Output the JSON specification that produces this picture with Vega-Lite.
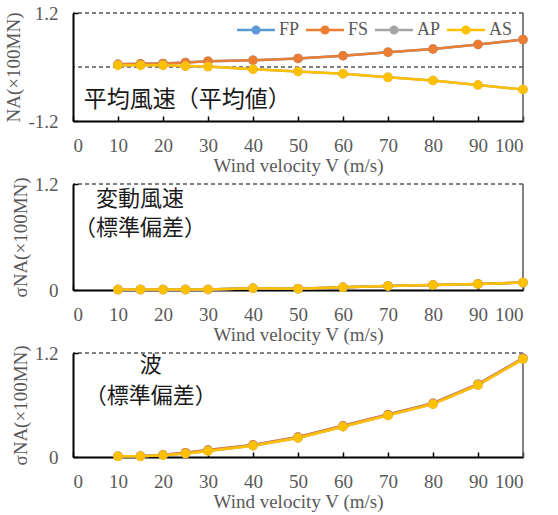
{
  "$schema": "https://vega.github.io/schema/vega-lite/v6.json",
  "background": "white",
  "padding": {"left": 4, "top": 4, "right": 5, "bottom": 3},
  "config": {
    "font": "Liberation Serif",
    "view": {"stroke": null},
    "concat": {"spacing": 0},
    "axis": {
      "labelFont": "Liberation Serif", "labelFontSize": 19, "labelColor": "#595959",
      "titleFont": "Liberation Serif", "titleFontSize": 19, "titleColor": "#595959", "titleFontWeight": "normal",
      "domainColor": "black", "domainWidth": 2, "tickColor": "black", "tickWidth": 1.5, "tickSize": -5,
      "grid": false
    },
    "legend": {
      "orient": "none", "legendX": 164, "legendY": -2, "direction": "horizontal", "title": null,
      "symbolType": "M-1,-0.06L1,-0.06L1,0.06L-1,0.06Z M0.24,0A0.24,0.24 0 1,1 -0.24,0A0.24,0.24 0 1,1 0.24,0Z",
      "symbolSize": 1444, "symbolStrokeWidth": 0,
      "labelFont": "Liberation Serif", "labelFontSize": 18, "labelColor": "#595959",
      "labelOffset": 4, "columnPadding": 6, "padding": 0
    }
  },
  "datasets": {
    "mean": [
      {"V": 10, "series": "FP", "value": 0.06}, {"V": 15, "series": "FP", "value": 0.07}, {"V": 20, "series": "FP", "value": 0.08}, {"V": 25, "series": "FP", "value": 0.10}, {"V": 30, "series": "FP", "value": 0.13}, {"V": 40, "series": "FP", "value": 0.15}, {"V": 50, "series": "FP", "value": 0.19}, {"V": 60, "series": "FP", "value": 0.25}, {"V": 70, "series": "FP", "value": 0.33}, {"V": 80, "series": "FP", "value": 0.40}, {"V": 90, "series": "FP", "value": 0.50}, {"V": 100, "series": "FP", "value": 0.61},
      {"V": 10, "series": "FS", "value": 0.06}, {"V": 15, "series": "FS", "value": 0.07}, {"V": 20, "series": "FS", "value": 0.08}, {"V": 25, "series": "FS", "value": 0.10}, {"V": 30, "series": "FS", "value": 0.13}, {"V": 40, "series": "FS", "value": 0.15}, {"V": 50, "series": "FS", "value": 0.19}, {"V": 60, "series": "FS", "value": 0.25}, {"V": 70, "series": "FS", "value": 0.33}, {"V": 80, "series": "FS", "value": 0.40}, {"V": 90, "series": "FS", "value": 0.50}, {"V": 100, "series": "FS", "value": 0.61},
      {"V": 10, "series": "AP", "value": 0.04}, {"V": 15, "series": "AP", "value": 0.04}, {"V": 20, "series": "AP", "value": 0.04}, {"V": 25, "series": "AP", "value": 0.02}, {"V": 30, "series": "AP", "value": 0.01}, {"V": 40, "series": "AP", "value": -0.05}, {"V": 50, "series": "AP", "value": -0.10}, {"V": 60, "series": "AP", "value": -0.15}, {"V": 70, "series": "AP", "value": -0.23}, {"V": 80, "series": "AP", "value": -0.30}, {"V": 90, "series": "AP", "value": -0.40}, {"V": 100, "series": "AP", "value": -0.50},
      {"V": 10, "series": "AS", "value": 0.04}, {"V": 15, "series": "AS", "value": 0.04}, {"V": 20, "series": "AS", "value": 0.04}, {"V": 25, "series": "AS", "value": 0.02}, {"V": 30, "series": "AS", "value": 0.01}, {"V": 40, "series": "AS", "value": -0.05}, {"V": 50, "series": "AS", "value": -0.10}, {"V": 60, "series": "AS", "value": -0.15}, {"V": 70, "series": "AS", "value": -0.23}, {"V": 80, "series": "AS", "value": -0.30}, {"V": 90, "series": "AS", "value": -0.40}, {"V": 100, "series": "AS", "value": -0.50}
    ],
    "fluct": [
      {"V": 10, "series": "FP", "value": 0.005}, {"V": 15, "series": "FP", "value": 0.005}, {"V": 20, "series": "FP", "value": 0.005}, {"V": 25, "series": "FP", "value": 0.005}, {"V": 30, "series": "FP", "value": 0.006}, {"V": 40, "series": "FP", "value": 0.02}, {"V": 50, "series": "FP", "value": 0.015}, {"V": 60, "series": "FP", "value": 0.03}, {"V": 70, "series": "FP", "value": 0.046}, {"V": 80, "series": "FP", "value": 0.058}, {"V": 90, "series": "FP", "value": 0.069}, {"V": 100, "series": "FP", "value": 0.084},
      {"V": 10, "series": "FS", "value": 0.005}, {"V": 15, "series": "FS", "value": 0.005}, {"V": 20, "series": "FS", "value": 0.005}, {"V": 25, "series": "FS", "value": 0.005}, {"V": 30, "series": "FS", "value": 0.006}, {"V": 40, "series": "FS", "value": 0.02}, {"V": 50, "series": "FS", "value": 0.015}, {"V": 60, "series": "FS", "value": 0.03}, {"V": 70, "series": "FS", "value": 0.046}, {"V": 80, "series": "FS", "value": 0.058}, {"V": 90, "series": "FS", "value": 0.069}, {"V": 100, "series": "FS", "value": 0.084},
      {"V": 10, "series": "AP", "value": 0.005}, {"V": 15, "series": "AP", "value": 0.005}, {"V": 20, "series": "AP", "value": 0.005}, {"V": 25, "series": "AP", "value": 0.005}, {"V": 30, "series": "AP", "value": 0.006}, {"V": 40, "series": "AP", "value": 0.02}, {"V": 50, "series": "AP", "value": 0.015}, {"V": 60, "series": "AP", "value": 0.03}, {"V": 70, "series": "AP", "value": 0.046}, {"V": 80, "series": "AP", "value": 0.058}, {"V": 90, "series": "AP", "value": 0.069}, {"V": 100, "series": "AP", "value": 0.084},
      {"V": 10, "series": "AS", "value": 0.005}, {"V": 15, "series": "AS", "value": 0.005}, {"V": 20, "series": "AS", "value": 0.005}, {"V": 25, "series": "AS", "value": 0.005}, {"V": 30, "series": "AS", "value": 0.006}, {"V": 40, "series": "AS", "value": 0.02}, {"V": 50, "series": "AS", "value": 0.015}, {"V": 60, "series": "AS", "value": 0.03}, {"V": 70, "series": "AS", "value": 0.046}, {"V": 80, "series": "AS", "value": 0.058}, {"V": 90, "series": "AS", "value": 0.069}, {"V": 100, "series": "AS", "value": 0.084}
    ],
    "wave": [
      {"V": 10, "series": "FP", "value": 0.01}, {"V": 15, "series": "FP", "value": 0.01}, {"V": 20, "series": "FP", "value": 0.025}, {"V": 25, "series": "FP", "value": 0.05}, {"V": 30, "series": "FP", "value": 0.08}, {"V": 40, "series": "FP", "value": 0.14}, {"V": 50, "series": "FP", "value": 0.23}, {"V": 60, "series": "FP", "value": 0.36}, {"V": 70, "series": "FP", "value": 0.49}, {"V": 80, "series": "FP", "value": 0.62}, {"V": 90, "series": "FP", "value": 0.84}, {"V": 100, "series": "FP", "value": 1.14},
      {"V": 10, "series": "FS", "value": 0.01}, {"V": 15, "series": "FS", "value": 0.01}, {"V": 20, "series": "FS", "value": 0.025}, {"V": 25, "series": "FS", "value": 0.05}, {"V": 30, "series": "FS", "value": 0.08}, {"V": 40, "series": "FS", "value": 0.14}, {"V": 50, "series": "FS", "value": 0.23}, {"V": 60, "series": "FS", "value": 0.36}, {"V": 70, "series": "FS", "value": 0.49}, {"V": 80, "series": "FS", "value": 0.62}, {"V": 90, "series": "FS", "value": 0.84}, {"V": 100, "series": "FS", "value": 1.14},
      {"V": 10, "series": "AP", "value": 0.008}, {"V": 15, "series": "AP", "value": 0.008}, {"V": 20, "series": "AP", "value": 0.02}, {"V": 25, "series": "AP", "value": 0.04}, {"V": 30, "series": "AP", "value": 0.07}, {"V": 40, "series": "AP", "value": 0.13}, {"V": 50, "series": "AP", "value": 0.22}, {"V": 60, "series": "AP", "value": 0.35}, {"V": 70, "series": "AP", "value": 0.48}, {"V": 80, "series": "AP", "value": 0.61}, {"V": 90, "series": "AP", "value": 0.83}, {"V": 100, "series": "AP", "value": 1.13},
      {"V": 10, "series": "AS", "value": 0.008}, {"V": 15, "series": "AS", "value": 0.008}, {"V": 20, "series": "AS", "value": 0.02}, {"V": 25, "series": "AS", "value": 0.04}, {"V": 30, "series": "AS", "value": 0.07}, {"V": 40, "series": "AS", "value": 0.13}, {"V": 50, "series": "AS", "value": 0.22}, {"V": 60, "series": "AS", "value": 0.35}, {"V": 70, "series": "AS", "value": 0.48}, {"V": 80, "series": "AS", "value": 0.61}, {"V": 90, "series": "AS", "value": 0.83}, {"V": 100, "series": "AS", "value": 1.13}
    ]
  },
  "vconcat": [
    {
      "width": 450, "height": 108,
      "layer": [
        {
          "data": {"values": [{"value": 0}, {"value": 1.2}]},
          "mark": {"type": "rule", "color": "black", "strokeDash": [4, 3], "strokeWidth": 1},
          "encoding": {"y": {"field": "value", "type": "quantitative"}}
        },
        {
          "data": {"values": [{"V": 100}]},
          "mark": {"type": "rule", "color": "#595959", "strokeWidth": 1.5},
          "encoding": {"x": {"field": "V", "type": "quantitative"}}
        },
        {
          "data": {"name": "mean"},
          "mark": {"type": "line", "strokeWidth": 2.5},
          "encoding": {
            "x": {"field": "V", "type": "quantitative", "scale": {"domain": [0, 100], "nice": false},
                  "axis": {"values": [0,5,10,15,20,25,30,35,40,45,50,55,60,65,70,75,80,85,90,95,100], "labelExpr": "datum.value % 10 == 0 ? datum.label : ''", "title": "Wind velocity V (m/s)", "labelPadding": 20, "titlePadding": 1}},
            "y": {"field": "value", "type": "quantitative", "scale": {"domain": [-1.2, 1.2], "nice": false},
                  "axis": {"values": [-1.2,-0.8,-0.4,0,0.4,0.8,1.2], "labelExpr": "datum.value == 0 ? '0' : (datum.value > 1.1 ? '1.2' : (datum.value < -1.1 ? '-1.2' : ''))", "title": "NA(×100MN)", "labelPadding": 20, "titlePadding": 4}},
            "color": {"field": "series", "type": "nominal", "sort": null, "scale": {"domain": ["FP", "FS", "AP", "AS"], "range": ["#5B9BD5", "#ED7D31", "#A5A5A5", "#FFC000"]}}
          }
        },
        {
          "data": {"name": "mean"},
          "mark": {"type": "point", "filled": true, "size": 90, "opacity": 1},
          "encoding": {
            "x": {"field": "V", "type": "quantitative"},
            "y": {"field": "value", "type": "quantitative"},
            "color": {"field": "series", "type": "nominal", "sort": null, "scale": {"domain": ["FP", "FS", "AP", "AS"], "range": ["#5B9BD5", "#ED7D31", "#A5A5A5", "#FFC000"]}}
          }
        },
        {
          "data": {"values": [{"V": 2.4, "value": -0.73, "label": "平均風速（平均値）"}]},
          "mark": {"type": "text", "font": "Noto Sans CJK JP", "fontSize": 23, "align": "left", "baseline": "middle", "color": "#1a1a1a"},
          "encoding": {
            "x": {"field": "V", "type": "quantitative"},
            "y": {"field": "value", "type": "quantitative"},
            "text": {"field": "label"}
          }
        }
      ]
    },
    {
      "width": 450, "height": 106,
      "layer": [
        {
          "data": {"values": [{"value": 1.2}]},
          "mark": {"type": "rule", "color": "black", "strokeDash": [4, 3], "strokeWidth": 1},
          "encoding": {"y": {"field": "value", "type": "quantitative"}}
        },
        {
          "data": {"values": [{"V": 100}]},
          "mark": {"type": "rule", "color": "#595959", "strokeWidth": 1.5},
          "encoding": {"x": {"field": "V", "type": "quantitative"}}
        },
        {
          "data": {"name": "fluct"},
          "mark": {"type": "line", "strokeWidth": 2.5},
          "encoding": {
            "x": {"field": "V", "type": "quantitative", "scale": {"domain": [0, 100], "nice": false},
                  "axis": {"values": [0,5,10,15,20,25,30,35,40,45,50,55,60,65,70,75,80,85,90,95,100], "labelExpr": "datum.value % 10 == 0 ? datum.label : ''", "title": "Wind velocity V (m/s)", "labelPadding": 20, "titlePadding": 1}},
            "y": {"field": "value", "type": "quantitative", "scale": {"domain": [0, 1.2], "nice": false},
                  "axis": {"values": [0, 0.4, 0.8, 1.2], "labelExpr": "datum.value == 0 ? '0' : (datum.value > 1.1 ? '1.2' : '')", "title": "σNA(×100MN)", "labelPadding": 20, "titlePadding": 4}},
            "color": {"field": "series", "type": "nominal", "scale": {"domain": ["FP", "FS", "AP", "AS"], "range": ["#5B9BD5", "#ED7D31", "#A5A5A5", "#FFC000"]}, "legend": null}
          }
        },
        {
          "data": {"name": "fluct"},
          "mark": {"type": "point", "filled": true, "size": 90, "opacity": 1},
          "encoding": {
            "x": {"field": "V", "type": "quantitative"},
            "y": {"field": "value", "type": "quantitative"},
            "color": {"field": "series", "type": "nominal", "scale": {"domain": ["FP", "FS", "AP", "AS"], "range": ["#5B9BD5", "#ED7D31", "#A5A5A5", "#FFC000"]}, "legend": null}
          }
        },
        {
          "data": {"values": [{"V": 14.9, "value": 1.03, "label": "変動風速"}, {"V": 14.9, "value": 0.7, "label": "（標準偏差）"}]},
          "mark": {"type": "text", "font": "Noto Sans CJK JP", "fontSize": 22, "align": "center", "baseline": "middle", "color": "#1a1a1a"},
          "encoding": {
            "x": {"field": "V", "type": "quantitative"},
            "y": {"field": "value", "type": "quantitative"},
            "text": {"field": "label"}
          }
        }
      ]
    },
    {
      "width": 450, "height": 104,
      "layer": [
        {
          "data": {"values": [{"value": 1.2}]},
          "mark": {"type": "rule", "color": "black", "strokeDash": [4, 3], "strokeWidth": 1},
          "encoding": {"y": {"field": "value", "type": "quantitative"}}
        },
        {
          "data": {"values": [{"V": 100}]},
          "mark": {"type": "rule", "color": "#595959", "strokeWidth": 1.5},
          "encoding": {"x": {"field": "V", "type": "quantitative"}}
        },
        {
          "data": {"name": "wave"},
          "mark": {"type": "line", "strokeWidth": 2.5},
          "encoding": {
            "x": {"field": "V", "type": "quantitative", "scale": {"domain": [0, 100], "nice": false},
                  "axis": {"values": [0,5,10,15,20,25,30,35,40,45,50,55,60,65,70,75,80,85,90,95,100], "labelExpr": "datum.value % 10 == 0 ? datum.label : ''", "title": "Wind velocity V (m/s)", "labelPadding": 20, "titlePadding": 1}},
            "y": {"field": "value", "type": "quantitative", "scale": {"domain": [0, 1.2], "nice": false},
                  "axis": {"values": [0, 0.4, 0.8, 1.2], "labelExpr": "datum.value == 0 ? '0' : (datum.value > 1.1 ? '1.2' : '')", "title": "σNA(×100MN)", "labelPadding": 20, "titlePadding": 4}},
            "color": {"field": "series", "type": "nominal", "scale": {"domain": ["FP", "FS", "AP", "AS"], "range": ["#5B9BD5", "#ED7D31", "#A5A5A5", "#FFC000"]}, "legend": null}
          }
        },
        {
          "data": {"name": "wave"},
          "mark": {"type": "point", "filled": true, "size": 90, "opacity": 1},
          "encoding": {
            "x": {"field": "V", "type": "quantitative"},
            "y": {"field": "value", "type": "quantitative"},
            "color": {"field": "series", "type": "nominal", "scale": {"domain": ["FP", "FS", "AP", "AS"], "range": ["#5B9BD5", "#ED7D31", "#A5A5A5", "#FFC000"]}, "legend": null}
          }
        },
        {
          "data": {"values": [{"V": 17.3, "value": 1.06, "label": "波"}, {"V": 17.3, "value": 0.7, "label": "（標準偏差）"}]},
          "mark": {"type": "text", "font": "Noto Sans CJK JP", "fontSize": 22, "align": "center", "baseline": "middle", "color": "#1a1a1a"},
          "encoding": {
            "x": {"field": "V", "type": "quantitative"},
            "y": {"field": "value", "type": "quantitative"},
            "text": {"field": "label"}
          }
        }
      ]
    }
  ],
  "resolve": {"scale": {"color": "independent"}, "legend": {"color": "independent"}}
}
